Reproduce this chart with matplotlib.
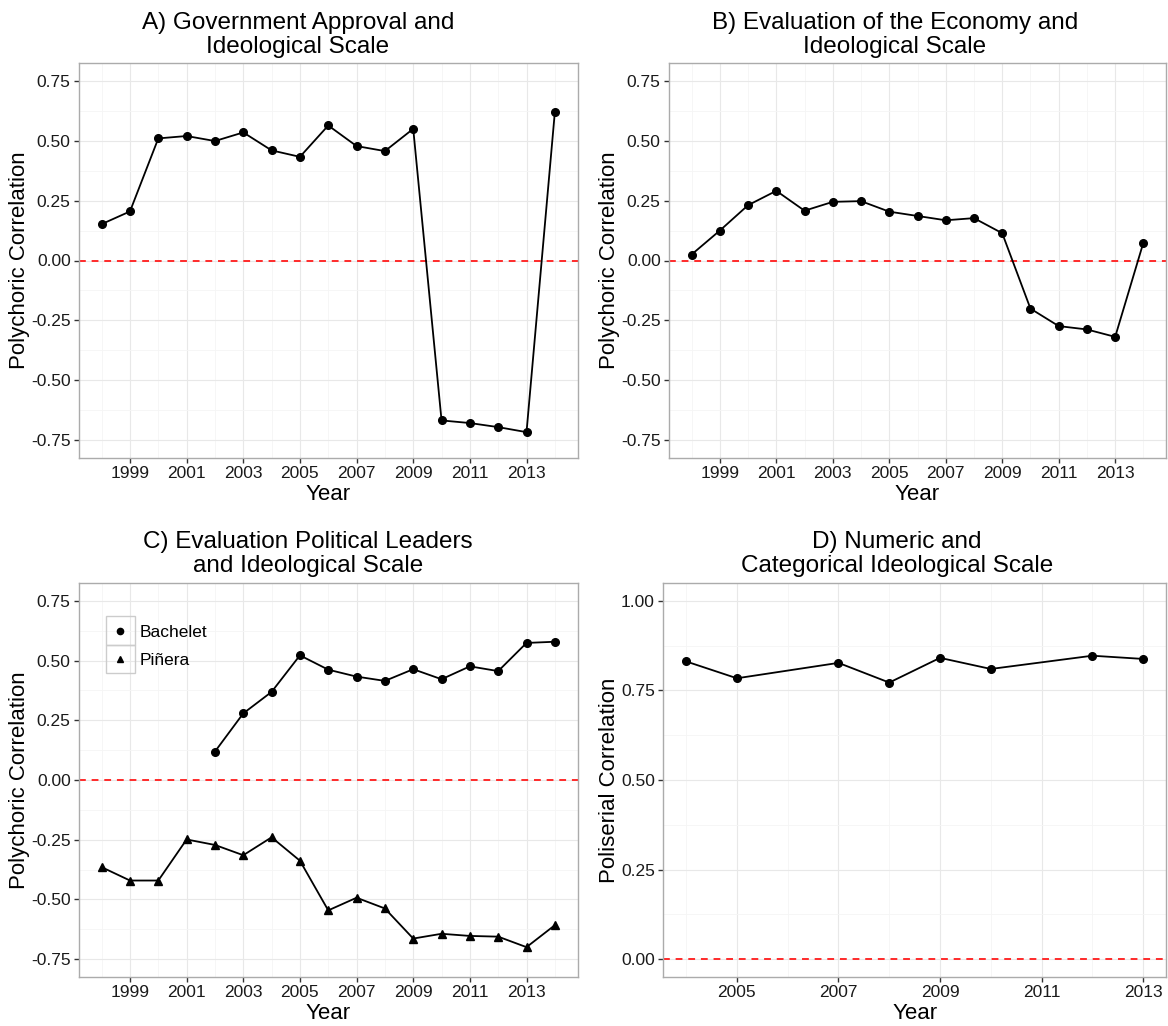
import matplotlib
matplotlib.use("Agg")
import matplotlib.pyplot as plt
from matplotlib.patches import Rectangle
from matplotlib.lines import Line2D
import numpy as np

plt.rcParams['font.family'] = ['Liberation Sans', 'DejaVu Sans']
plt.rcParams['axes.unicode_minus'] = False

# Datos
years = list(range(1998, 2015))
approval = [0.152, 0.205, 0.510, 0.520, 0.499, 0.535, 0.460, 0.433, 0.564, 0.478,
            0.457, 0.550, -0.668, -0.679, -0.696, -0.717, 0.620]
economy = [0.025, 0.125, 0.231, 0.291, 0.208, 0.245, 0.248, 0.204, 0.186, 0.168,
           0.177, 0.114, -0.201, -0.274, -0.288, -0.319, 0.075]

bachelet_years = list(range(2002, 2015))
bachelet = [0.119, 0.279, 0.369, 0.522, 0.462, 0.433, 0.415, 0.464, 0.422, 0.476,
            0.456, 0.574, 0.579]
pinera_years = list(range(1998, 2015))
pinera = [-0.365, -0.421, -0.421, -0.249, -0.272, -0.315, -0.240, -0.338, -0.546,
          -0.493, -0.538, -0.664, -0.644, -0.653, -0.656, -0.700, -0.608]

poli_years = [2004, 2005, 2007, 2008, 2009, 2010, 2012, 2013]
poliserial = [0.831, 0.784, 0.827, 0.772, 0.841, 0.810, 0.847, 0.838]

titles = ["A) Government Approval and\nIdeological Scale",
          "B) Evaluation of the Economy and\nIdeological Scale",
          "C) Evaluation Political Leaders\nand Ideological Scale",
          "D) Numeric and\nCategorical Ideological Scale"]

W, H = 1168, 1026
fig = plt.figure(figsize=(W / 100, H / 100), dpi=100)


def px_axes(left, top, right, bottom):
    return fig.add_axes([left / W, 1 - bottom / H, (right - left) / W, (bottom - top) / H])


def style(ax, title, title_x, title_y, ylabel, xticks, xminor, yticks, yminor):
    ax.set_xticks(xticks)
    ax.set_xticks(xminor, minor=True)
    ax.set_yticks(yticks)
    ax.set_yticks(yminor, minor=True)
    ax.grid(which='major', color='#E8E8E8', linewidth=0.8)
    ax.grid(which='minor', color='#F5F5F5', linewidth=0.6)
    ax.set_axisbelow(True)
    for s in ax.spines.values():
        s.set_color('#ABABAB')
        s.set_linewidth(1.0)
    ax.tick_params(which='major', length=3.5, width=1.0, color='#333333',
                   labelsize=12.5, labelcolor='#1a1a1a', pad=2.5)
    ax.tick_params(which='minor', length=0)
    fig.text(title_x / W, 1 - title_y / H, title, fontsize=17.5, ha='center',
             va='bottom', linespacing=1.1)
    ax.set_xlabel("Year", fontsize=16, labelpad=2)
    ax.set_ylabel(ylabel, fontsize=16, labelpad=0.5)
    ax.axhline(0, color='#FF2A2A', linewidth=1.4, dashes=(3.5, 3), zorder=2)


odd_years = list(range(1999, 2014, 2))
even_years = list(range(1998, 2015, 2))
yt = [-0.75, -0.5, -0.25, 0, 0.25, 0.5, 0.75]
ym = [-0.625, -0.375, -0.125, 0.125, 0.375, 0.625]
ylim = (-0.825, 0.825)
xlim = (1997.2, 2014.8)

# A
axA = px_axes(79, 63, 577.5, 458)
axA.plot(years, approval, color='black', linewidth=1.3, marker='o', markersize=5.5, zorder=3)
style(axA, titles[0], 298, 58, "Polychoric Correlation", odd_years, even_years, yt, ym)
axA.set_xlim(*xlim)
axA.set_ylim(*ylim)

# B
axB = px_axes(669, 63, 1166, 458)
axB.plot(years, economy, color='black', linewidth=1.3, marker='o', markersize=5.5, zorder=3)
style(axB, titles[1], 895, 58, "Polychoric Correlation", odd_years, even_years, yt, ym)
axB.set_xlim(*xlim)
axB.set_ylim(*ylim)

# C
axC = px_axes(79, 583, 577.5, 977)
axC.plot(bachelet_years, bachelet, color='black', linewidth=1.3, marker='o', markersize=5.5, zorder=3)
axC.plot(pinera_years, pinera, color='black', linewidth=1.3, marker='^', markersize=6, zorder=3)
style(axC, titles[2], 308, 577, "Polychoric Correlation", odd_years, even_years, yt, ym)
axC.set_xlim(*xlim)
axC.set_ylim(*ylim)

# leyenda con cajas grises
handles = [Line2D([], [], linestyle='none', marker='o', markersize=4.5, color='black'),
           Line2D([], [], linestyle='none', marker='^', markersize=5, color='black')]
leg = axC.legend(handles, ["Bachelet", "Piñera"], loc='upper left',
                 bbox_to_anchor=(92 / W, 1 - 611 / H), bbox_transform=fig.transFigure,
                 frameon=False, fontsize=12.5, handlelength=1.6, handletextpad=0.35,
                 labelspacing=0.75, borderpad=0.3)
for top in (616, 644.5):
    fig.patches.append(Rectangle((106 / W, 1 - (top + 28.5) / H), 29 / W, 28.5 / H,
                                 transform=fig.transFigure, facecolor='none',
                                 edgecolor='#CCCCCC', linewidth=1.0))

# D
axD = px_axes(663.3, 583, 1166, 977)
axD.plot(poli_years, poliserial, color='black', linewidth=1.3, marker='o', markersize=5.5, zorder=3)
style(axD, titles[3], 897, 577, "Poliserial Correlation", odd_years[3:], list(range(2004, 2014, 2)),
      [0, 0.25, 0.5, 0.75, 1.0], [0.125, 0.375, 0.625, 0.875])
axD.set_xlim(2003.55, 2013.45)
axD.set_ylim(-0.05, 1.05)

fig.savefig("out.png", dpi=100)
